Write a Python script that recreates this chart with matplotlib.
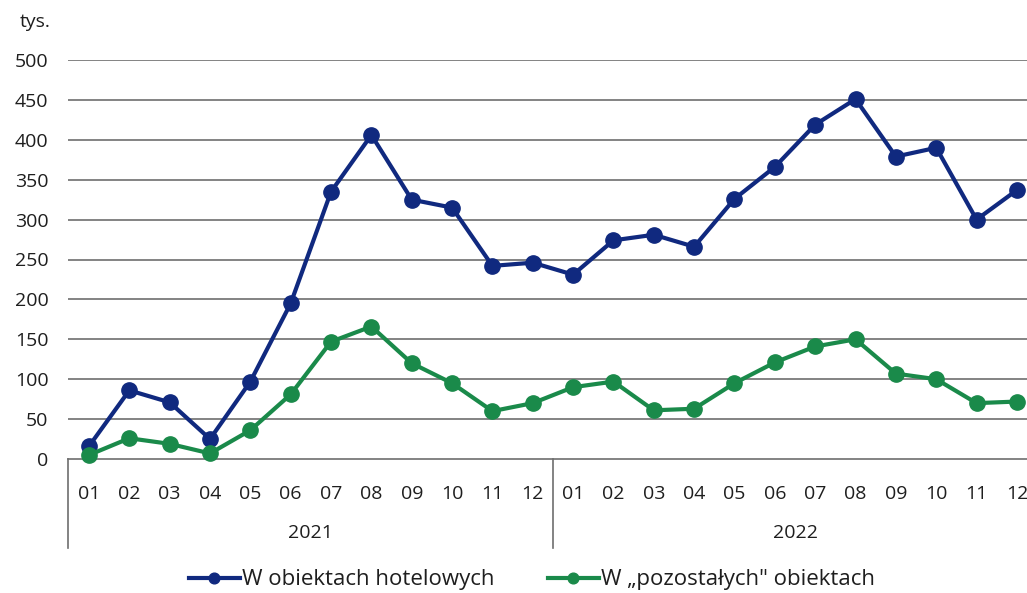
import matplotlib
matplotlib.use("Agg")
import matplotlib.pyplot as plt
from matplotlib.transforms import blended_transform_factory

months = ["01", "02", "03", "04", "05", "06", "07", "08", "09", "10", "11", "12"] * 2
years = ["2021", "2022"]
hotel = [16, 86, 71, 25, 97, 195, 335, 406, 325, 315, 242, 246,
         231, 274, 281, 266, 326, 366, 419, 451, 379, 390, 300, 337]
other = [5, 26, 19, 7, 36, 81, 147, 166, 120, 95, 60, 70,
         90, 97, 61, 63, 95, 121, 141, 150, 107, 100, 70, 72]
label_hotel = "W obiektach hotelowych"
label_other = "W \u201epozosta\u0142ych\" obiektach"

plt.rcParams['font.family'] = ['Open Sans', 'DejaVu Sans']
fig = plt.figure(figsize=(10.27, 5.93), dpi=100)
W, H = 1027, 593
ax = fig.add_axes([68 / W, (H - 459) / H, (1027 - 68) / W, 399 / H])

navy = '#10297f'
green = '#1a8a4a'
grid_c = '#6e6e6e'
txt_c = '#1e1e1e'

x = list(range(len(months)))
ax.plot(x, hotel, color=navy, lw=3.0, marker='o', ms=11, label=label_hotel, zorder=3, clip_on=False)
ax.plot(x, other, color=green, lw=3.0, marker='o', ms=11, label=label_other, zorder=3, clip_on=False)

ax.set_ylim(0, 500)
ax.set_xlim(-0.52, 23.25)
ax.set_yticks(range(0, 501, 50))
for v in range(50, 501, 50):
    ax.axhline(v, color=grid_c, lw=1.2, zorder=1)
ax.axhline(0, color=grid_c, lw=1.2, zorder=1, clip_on=False)

for s in ax.spines.values():
    s.set_visible(False)

ax.set_xticks(x)
ax.set_xticklabels(months)
ax.tick_params(axis='x', length=0, pad=19, labelsize=14, colors=txt_c)
ax.tick_params(axis='y', length=0, pad=14, labelsize=14, colors=txt_c)

trans = blended_transform_factory(ax.transData, ax.transAxes)
sep_bottom = -89 / 399
for xs in [-0.52, 11.5]:
    ax.plot([xs, xs], [0, sep_bottom], color=grid_c, lw=1.2, transform=trans, clip_on=False)
for i, yr in enumerate(years):
    ax.text(i * 12 + 5.5, -74 / 399, yr, transform=trans, ha='center', va='center',
            fontsize=14, color=txt_c)

fig.text(35 / W, 1 - 22 / H, "tys.", ha='center', va='center', fontsize=14, color=txt_c)

fig.legend(loc='center', bbox_to_anchor=(532 / W, 1 - 580 / H), ncol=2, frameon=False,
           fontsize=16, handlelength=2.3, handletextpad=0.1, columnspacing=2.4,
           markerscale=0.7, labelcolor=txt_c)

fig.savefig("out.png", dpi=100)
